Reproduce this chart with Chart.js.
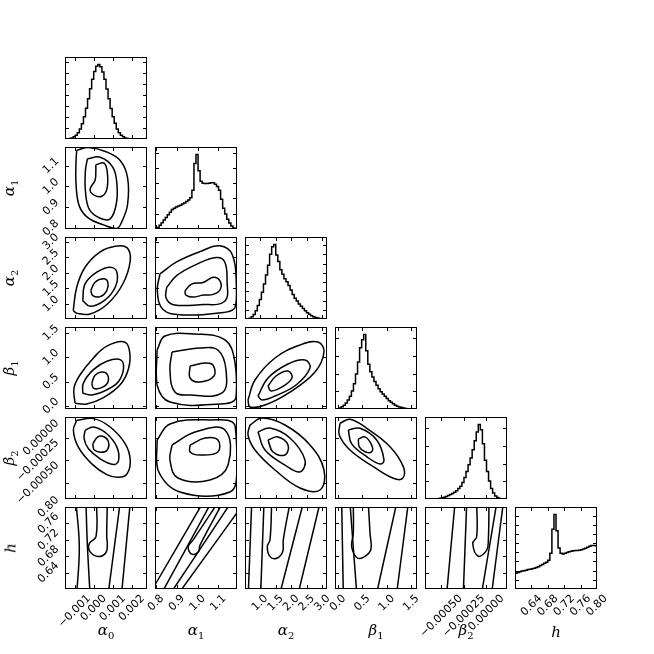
<!DOCTYPE html>
<html>
<head>
<meta charset="utf-8">
<script src="https://cdn.jsdelivr.net/npm/chart.js@4.4.1/dist/chart.umd.min.js"></script>
<style>
  body { margin: 0; background: #fff; }
  #wrap { position: relative; width: 654px; height: 654px; overflow: hidden; }
  canvas { position: absolute; }
  .lab { position: absolute; font: italic 15px "DejaVu Serif", serif; white-space: nowrap; line-height: 1; transform: translate(-50%, -50%); }
  .lab sub { font-style: normal; font-size: 10px; }
  .ylab { transform: translate(-50%, -50%) rotate(-90deg); }
</style>
</head>
<body>
<div id="wrap"></div>
<script>
// parameters: a0, a1, a2, b1, b2, h
const paramNames = ['α', 'α', 'α', 'β', 'β', 'h'];
const paramSubs = ['0', '1', '2', '1', '2', ''];
const paramMin = [-0.0015, 0.795, 0.52, -0.06, -0.00068, 0.60];
const paramMax = [0.0028, 1.19, 3.15, 1.62, 0.00023, 0.80];
const tickValues = [
    [-0.001, 0.0, 0.001, 0.002],
    [0.8, 0.9, 1.0, 1.1],
    [1.0, 1.5, 2.0, 2.5, 3.0],
    [0.0, 0.5, 1.0, 1.5],
    [-0.0005, -0.00025, 0.0],
    [0.64, 0.68, 0.72, 0.76, 0.80]
];
const tickLabels = [
    ['−0.001', '0.000', '0.001', '0.002'],
    ['0.8', '0.9', '1.0', '1.1'],
    ['1.0', '1.5', '2.0', '2.5', '3.0'],
    ['0.0', '0.5', '1.0', '1.5'],
    ['−0.00050', '−0.00025', '0.00000'],
    ['0.64', '0.68', '0.72', '0.76', '0.80']
];
const histTickStep = [0.148, 0.205, 0.124, 0.237, 0.237, 0.123];

// 1D histograms (40 bins over each range, peak = 1)
const hist0 = [0, 0.004, 0.008, 0.015, 0.029, 0.05, 0.085, 0.135, 0.206, 0.298, 0.411, 0.539, 0.674, 0.80, 0.906, 0.976, 1.0, 0.97, 0.90, 0.80, 0.67, 0.54, 0.41, 0.30, 0.21, 0.135, 0.085, 0.05, 0.029, 0.015, 0.008, 0.004, 0.002, 0, 0, 0, 0, 0, 0, 0];
const hist1 = [0, 0.02, 0.05, 0.085, 0.12, 0.155, 0.19, 0.225, 0.26, 0.28, 0.295, 0.31, 0.32, 0.335, 0.35, 0.37, 0.39, 0.42, 0.52, 0.88, 1.0, 0.78, 0.64, 0.615, 0.61, 0.61, 0.615, 0.62, 0.62, 0.6, 0.57, 0.52, 0.4, 0.28, 0.2, 0.13, 0.08, 0.04, 0.012, 0];
const hist2 = [0, 0.003, 0.01, 0.03, 0.06, 0.11, 0.18, 0.26, 0.36, 0.47, 0.59, 0.72, 0.87, 0.97, 1.0, 0.86, 0.77, 0.66, 0.6, 0.54, 0.5, 0.45, 0.39, 0.33, 0.28, 0.24, 0.2, 0.17, 0.14, 0.11, 0.085, 0.065, 0.045, 0.03, 0.02, 0.013, 0.008, 0.004, 0.002, 0];
const hist3 = [0, 0.005, 0.015, 0.03, 0.05, 0.08, 0.12, 0.17, 0.24, 0.34, 0.47, 0.63, 0.82, 0.93, 1.0, 0.78, 0.6, 0.5, 0.43, 0.37, 0.32, 0.27, 0.23, 0.2, 0.17, 0.14, 0.11, 0.09, 0.07, 0.05, 0.038, 0.028, 0.02, 0.013, 0.008, 0.005, 0.003, 0.001, 0, 0];
const hist4 = [0, 0, 0, 0, 0, 0.002, 0.005, 0.01, 0.017, 0.025, 0.035, 0.048, 0.06, 0.075, 0.09, 0.11, 0.14, 0.17, 0.22, 0.29, 0.37, 0.46, 0.55, 0.66, 0.78, 0.9, 1.0, 0.93, 0.74, 0.52, 0.37, 0.24, 0.14, 0.08, 0.04, 0.02, 0.008, 0.003, 0, 0];
const hist5 = [0.21, 0.22, 0.23, 0.24, 0.245, 0.252, 0.26, 0.265, 0.272, 0.28, 0.288, 0.3, 0.315, 0.33, 0.345, 0.36, 0.385, 0.48, 0.8, 1.0, 0.78, 0.55, 0.48, 0.47, 0.48, 0.49, 0.5, 0.505, 0.512, 0.515, 0.518, 0.52, 0.525, 0.535, 0.548, 0.56, 0.575, 0.585, 0.585, 0.58];

// 2D contours, [x, y] in data units (outer, middle, inner ... )
const ctr_1_0 = [
    [[-0.000885, 1.174], [-0.00027, 1.187], [0.000693, 1.166], [0.001394, 1.125], [0.001781, 1.043], [0.001781, 0.913], [0.001484, 0.831], [0.001222, 0.798], [0.000517, 0.815], [-0.00027, 0.847], [-0.000743, 0.904], [-0.00092, 1.010], [-0.00092, 1.125]],
    [[-0.000326, 1.133], [0.000345, 1.141], [0.001011, 1.092], [0.001222, 1.010], [0.001183, 0.913], [0.000869, 0.844], [0.000345, 0.847], [-0.000219, 0.888], [-0.000429, 0.978], [-0.000429, 1.076]],
    [[0.000117, 1.105], [0.000555, 1.112], [0.000727, 1.059], [0.000693, 0.986], [0.000431, 0.953], [0.0000265, 0.958], [-0.000184, 0.986], [0.000078, 1.030], [0.000117, 1.076]]
];
const ctr_2_0 = [
    [[-0.00107, 0.788], [-0.000885, 1.54], [-0.000447, 2.18], [0.000345, 2.67], [0.001132, 2.85], [0.001747, 2.81], [0.001923, 2.40], [0.001536, 1.65], [0.000727, 1.00], [-0.000184, 0.68], [-0.00085, 0.70]],
    [[-0.000571, 1.109], [-0.000447, 1.648], [0.000168, 2.02], [0.000869, 2.18], [0.001222, 2.02], [0.001132, 1.54], [0.000555, 1.109], [-0.000184, 0.928]],
    [[-0.00015, 1.433], [0.000078, 1.70], [0.000517, 1.809], [0.000745, 1.70], [0.000693, 1.433], [0.000345, 1.238], [-0.000042, 1.272]]
];
const ctr_3_0 = [
    [[-0.000975, 0.057], [-0.00103, 0.367], [-0.000709, 0.642], [-0.000008, 0.987], [0.000693, 1.227], [0.00157, 1.318], [0.00187, 1.158], [0.00184, 0.78], [0.001394, 0.436], [0.000517, 0.174], [-0.00036, 0.043]],
    [[-0.000571, 0.264], [-0.000537, 0.471], [-0.000008, 0.746], [0.000693, 0.918], [0.001394, 0.951], [0.00157, 0.78], [0.001308, 0.504], [0.000693, 0.333], [-0.000094, 0.229]],
    [[-0.000094, 0.471], [0.000078, 0.629], [0.000431, 0.698], [0.000727, 0.642], [0.000727, 0.471], [0.000345, 0.367], [-0.000008, 0.367]]
];
const ctr_4_0 = [
    [[-0.000885, 0.000193], [-0.000008, 0.000212], [0.000869, 0.000119], [0.00166, -0.000068], [0.001923, -0.000253], [0.001747, -0.000402], [0.001308, -0.000439], [0.000693, -0.000409], [-0.000094, -0.00029], [-0.000799, -0.000104], [-0.00106, 0.000082]],
    [[-0.000447, 0.000082], [-0.000008, 0.000119], [0.000693, 0.000044], [0.001222, -0.000104], [0.001308, -0.000253], [0.001046, -0.000298], [0.000345, -0.000234], [-0.00027, -0.000123], [-0.000498, -0.000011]],
    [[-0.000042, -0.000068], [0.000203, 0.000007], [0.000517, 0.000014], [0.000783, -0.000048], [0.000693, -0.000141], [0.000345, -0.00016], [0.0000265, -0.000134]]
];
const ctr_5_0 = [
    [[-0.00092, 0.81], [-0.00075, 0.703], [-0.00088, 0.59]],
    [[-0.0004, 0.81], [-0.00033, 0.711], [-0.00019, 0.59]],
    [[0.00016, 0.81], [0.000126, 0.728], [-0.000226, 0.711], [-0.000189, 0.691], [0.000249, 0.679], [0.00065, 0.689], [0.000719, 0.711], [0.000687, 0.728], [0.00072, 0.81]],
    [[0.00139, 0.81], [0.00077, 0.59]],
    [[0.00192, 0.81], [0.00147, 0.59]]
];
const ctr_2_1 = [
    [[0.819, 1.967], [0.899, 2.35], [1.011, 2.68], [1.107, 2.866], [1.168, 2.57], [1.187, 1.528], [1.179, 0.87], [1.091, 0.707], [0.931, 0.652], [0.835, 0.817], [0.806, 1.419]],
    [[0.851, 1.528], [0.899, 1.911], [0.995, 2.274], [1.091, 2.493], [1.131, 2.35], [1.142, 1.748], [1.131, 1.09], [1.011, 0.98], [0.883, 0.98], [0.848, 1.199]],
    [[0.939, 1.419], [0.971, 1.638], [1.027, 1.693], [1.075, 1.856], [1.107, 1.748], [1.110, 1.475], [1.075, 1.309], [1.027, 1.288], [0.979, 1.222], [0.944, 1.288]]
];
const ctr_3_1 = [
    [[0.805, 1.149], [0.843, 1.436], [0.988, 1.477], [1.132, 1.354], [1.180, 0.903], [1.185, 0.165], [1.108, 0.042], [0.867, 0.083], [0.805, 0.432]],
    [[0.877, 1.108], [1.012, 1.19], [1.098, 1.149], [1.137, 0.739], [1.118, 0.268], [0.964, 0.227], [0.891, 0.288], [0.867, 0.739]],
    [[0.964, 0.821], [1.036, 0.883], [1.074, 0.842], [1.079, 0.616], [1.012, 0.493], [0.964, 0.575]]
];
const ctr_4_1 = [
    [[0.805, -0.000025], [0.867, 0.000153], [1.060, 0.000197], [1.180, 0.000141], [1.190, -0.000358], [1.156, -0.000602], [0.915, -0.000602], [0.809, -0.000358]],
    [[0.877, -0.000081], [0.988, 0.000064], [1.132, 0.000086], [1.147, -0.000303], [1.060, -0.000469], [0.906, -0.000447], [0.867, -0.000247]],
    [[0.964, -0.000081], [1.036, -0.000003], [1.098, -0.000025], [1.098, -0.000158], [1.012, -0.000192], [0.964, -0.000158]]
];
const ctr_5_1 = [
    [[0.78, 0.597], [1.025, 0.81]],
    [[0.835, 0.597], [1.065, 0.81]],
    [[1.097, 0.81], [0.979, 0.720], [0.955, 0.703], [0.972, 0.685], [1.004, 0.691], [1.012, 0.707], [1.120, 0.81]],
    [[0.88, 0.597], [1.16, 0.81]],
    [[0.92, 0.597], [1.21, 0.80]]
];
const ctr_3_2 = [
    [[0.616, 0.124], [0.841, 0.534], [1.482, 0.985], [2.284, 1.251], [2.861, 1.313], [3.053, 1.108], [2.765, 0.698], [1.963, 0.288], [1.161, 0.022], [0.68, -0.019]],
    [[0.937, 0.206], [1.258, 0.575], [1.899, 0.862], [2.444, 0.944], [2.604, 0.78], [2.156, 0.432], [1.482, 0.206], [1.065, 0.124]],
    [[1.258, 0.411], [1.514, 0.616], [1.899, 0.719], [2.027, 0.575], [1.707, 0.391], [1.354, 0.309]]
];
const ctr_4_2 = [
    [[0.68, 0.000141], [1.065, 0.000219], [1.803, 0.000141], [2.605, -0.000081], [3.053, -0.000358], [2.925, -0.00058], [2.284, -0.000558], [1.482, -0.000358], [0.841, -0.000136], [0.616, 0.00003]],
    [[0.937, 0.000064], [1.322, 0.000108], [1.963, -0.000003], [2.444, -0.000247], [2.284, -0.00038], [1.803, -0.000303], [1.161, -0.000136]],
    [[1.258, -0.000025], [1.578, 0.000008], [1.899, -0.000081], [1.803, -0.000192], [1.418, -0.000158]]
];
const ctr_5_2 = [
    [[0.735, 0.81], [0.626, 0.59]],
    [[1.129, 0.81], [1.023, 0.59]],
    [[1.376, 0.81], [1.322, 0.720], [1.235, 0.703], [1.322, 0.679], [1.537, 0.675], [1.729, 0.691], [1.748, 0.72], [1.963, 0.81]],
    [[2.39, 0.81], [1.642, 0.59]],
    [[2.925, 0.81], [2.229, 0.59]]
];
const ctr_4_3 = [
    [[0.042, 0.00016], [0.247, 0.000205], [0.59, 0.000105], [1.067, -0.000099], [1.339, -0.000321], [1.327, -0.00045], [1.135, -0.00045], [0.725, -0.000321], [0.247, -0.000136], [0.028, 0.00003]],
    [[0.213, 0.000086], [0.452, 0.000105], [0.794, -0.000025], [0.944, -0.000247], [0.862, -0.000292], [0.59, -0.00021], [0.282, -0.000069]],
    [[0.417, -0.000015], [0.555, 0.00001], [0.692, -0.000082], [0.692, -0.000156], [0.555, -0.000156], [0.438, -0.000101]]
];
const ctr_5_3 = [
    [[0.077, 0.81], [0.11, 0.59]],
    [[0.247, 0.81], [0.385, 0.59]],
    [[0.315, 0.81], [0.315, 0.736], [0.282, 0.703], [0.385, 0.677], [0.52, 0.677], [0.671, 0.695], [0.657, 0.736], [0.622, 0.81]],
    [[1.204, 0.81], [0.794, 0.59]],
    [[1.442, 0.81], [1.204, 0.59]]
];
const ctr_5_4 = [
    [[-0.000347, 0.81], [-0.000439, 0.59]],
    [[-0.000217, 0.81], [-0.000255, 0.59]],
    [[-0.000106, 0.81], [-0.000106, 0.728], [-0.00015, 0.711], [-0.000088, 0.68], [0.000005, 0.695], [0.000023, 0.72], [0.00003, 0.81]],
    [[0.000116, 0.81], [-0.000051, 0.59]],
    [[0.000189, 0.81], [0.00006, 0.59]]
];

const hists = [hist0, hist1, hist2, hist3, hist4, hist5];
const contourSets = {
    '1,0': ctr_1_0, '2,0': ctr_2_0, '3,0': ctr_3_0, '4,0': ctr_4_0, '5,0': ctr_5_0,
    '2,1': ctr_2_1, '3,1': ctr_3_1, '4,1': ctr_4_1, '5,1': ctr_5_1,
    '3,2': ctr_3_2, '4,2': ctr_4_2, '5,2': ctr_5_2,
    '4,3': ctr_4_3, '5,3': ctr_5_3,
    '5,4': ctr_5_4
};

const LEFT = 65, TOP = 57, SIZE = 82, STEP = 90;
const wrap = document.getElementById('wrap');

/* frame, inward ticks and rotated tick labels (matplotlib look) */
const framePlugin = {
    id: 'frame',
    afterDraw(chart, args, o) {
        const { ctx, chartArea: a } = chart;
        const x = chart.scales.x, y = chart.scales.y;
        const TL = 4;
        ctx.save();
        ctx.strokeStyle = '#000';
        ctx.lineWidth = 1;
        ctx.beginPath();
        o.xTicks.forEach(v => {
            const px = Math.round(x.getPixelForValue(v)) + 0.5;
            if (px < a.left || px > a.right) return;
            ctx.moveTo(px, a.bottom); ctx.lineTo(px, a.bottom - TL);
            ctx.moveTo(px, a.top); ctx.lineTo(px, a.top + TL);
        });
        o.yTicks.forEach(v => {
            const py = Math.round(y.getPixelForValue(v)) + 0.5;
            if (py < a.top || py > a.bottom) return;
            ctx.moveTo(a.left, py); ctx.lineTo(a.left + TL, py);
            ctx.moveTo(a.right, py); ctx.lineTo(a.right - TL, py);
        });
        ctx.stroke();
        ctx.strokeRect(a.left + 0.5, a.top + 0.5, a.right - a.left - 1, a.bottom - a.top - 1);

        ctx.fillStyle = '#000';
        ctx.font = '11px "DejaVu Sans"';
        ctx.textAlign = 'center';
        ctx.textBaseline = 'middle';
        const s = Math.SQRT1_2, fh = 11, pad = 4;
        if (o.xLabels) o.xTicks.forEach((v, i) => {
            const t = o.xLabels[i];
            const b = (ctx.measureText(t).width + fh) * s;
            ctx.save();
            ctx.translate(x.getPixelForValue(v), a.bottom + pad + b / 2);
            ctx.rotate(-Math.PI / 4);
            ctx.fillText(t, 0, 0);
            ctx.restore();
        });
        if (o.yLabels) o.yTicks.forEach((v, i) => {
            const t = o.yLabels[i];
            const b = (ctx.measureText(t).width + fh) * s;
            ctx.save();
            ctx.translate(a.left - pad - b / 2, y.getPixelForValue(v));
            ctx.rotate(-Math.PI / 4);
            ctx.fillText(t, 0, 0);
            ctx.restore();
        });
        ctx.restore();
    }
};

function histPoints(vals, lo, hi) {
    const n = vals.length, w = (hi - lo) / n;
    const pts = [{ x: lo, y: 0 }];
    vals.forEach((v, i) => pts.push({ x: lo + i * w, y: v }));
    pts.push({ x: hi, y: vals[n - 1] }, { x: hi, y: 0 });
    return pts;
}

for (let r = 0; r < 6; r++) {
    for (let c = 0; c <= r; c++) {
        const pad = { left: c === 0 ? 70 : 40, right: 40, top: 20, bottom: r === 5 ? 70 : 20 };
        const cv = document.createElement('canvas');
        cv.width = pad.left + SIZE + pad.right;
        cv.height = pad.top + SIZE + pad.bottom;
        cv.style.left = (LEFT + STEP * c - pad.left) + 'px';
        cv.style.top = (TOP + STEP * r - pad.top) + 'px';
        wrap.appendChild(cv);

        let datasets, yMin, yMax, yTicks;
        if (r === c) {
            datasets = [{ data: histPoints(hists[c], paramMin[c], paramMax[c]), stepped: true }];
            yMin = 0; yMax = 1.1;
            yTicks = [];
            for (let t = 0; t <= 1.1; t += histTickStep[c]) yTicks.push(t);
        } else {
            datasets = contourSets[r + ',' + c].map(line => {
                const pts = line.map(([px, py]) => ({ x: px, y: py }));
                if (r < 5) pts.push(pts[0]);
                return { data: pts, tension: 0.4 };
            });
            yMin = paramMin[r]; yMax = paramMax[r]; yTicks = tickValues[r];
        }

        new Chart(cv, {
            type: 'scatter',
            data: {
                datasets: datasets.map(d => Object.assign({
                    showLine: true, fill: false, borderColor: '#000', borderWidth: 1.5, pointRadius: 0
                }, d))
            },
            options: {
                responsive: false,
                animation: false,
                devicePixelRatio: 1,
                events: [],
                layout: { padding: pad },
                scales: {
                    x: { type: 'linear', min: paramMin[c], max: paramMax[c], display: false },
                    y: { type: 'linear', min: yMin, max: yMax, display: false }
                },
                plugins: {
                    legend: { display: false },
                    tooltip: { enabled: false },
                    frame: {
                        xTicks: tickValues[c],
                        yTicks: yTicks,
                        xLabels: r === 5 ? tickLabels[c] : null,
                        yLabels: (c === 0 && r > 0) ? tickLabels[r] : null
                    }
                }
            },
            plugins: [framePlugin]
        });
    }
}

// axis titles
function addLabel(cx, cy, i, vertical) {
    const d = document.createElement('div');
    d.className = 'lab' + (vertical ? ' ylab' : '');
    d.innerHTML = paramNames[i] + (paramSubs[i] ? '<sub>' + paramSubs[i] + '</sub>' : '');
    d.style.left = cx + 'px';
    d.style.top = cy + 'px';
    wrap.appendChild(d);
}
for (let c = 0; c < 6; c++) addLabel(LEFT + STEP * c + SIZE / 2, 632, c, false);
for (let r = 1; r < 6; r++) addLabel(11, TOP + STEP * r + SIZE / 2, r, true);
</script>
</body>
</html>
